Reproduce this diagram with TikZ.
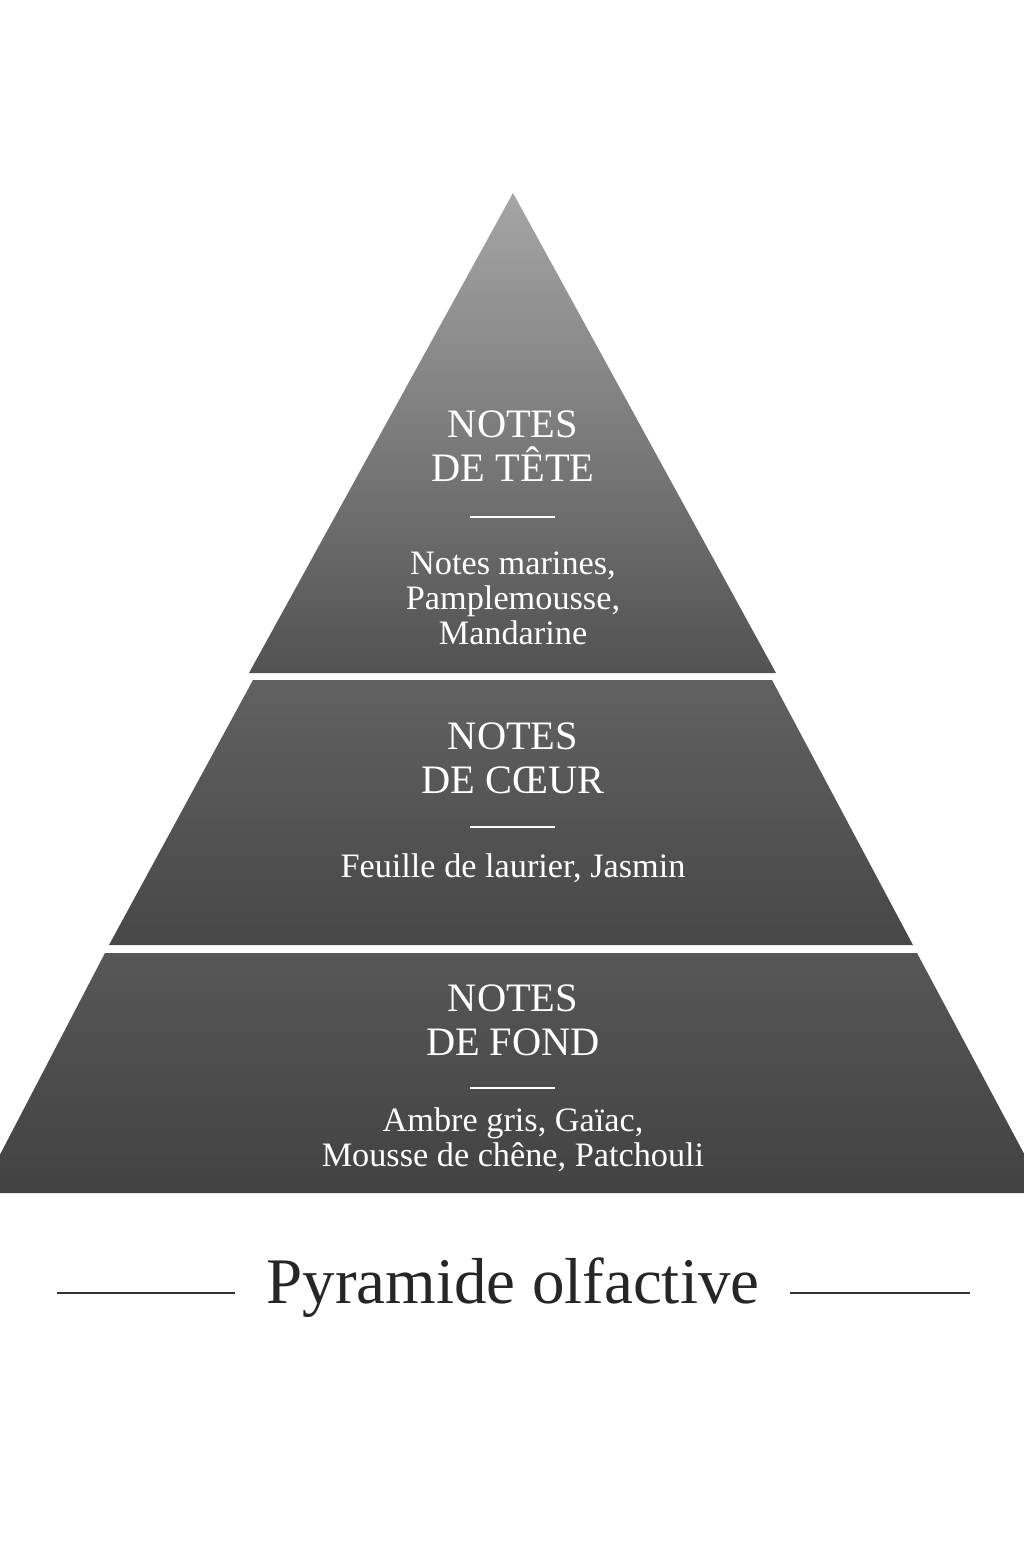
\documentclass[tikz,border=0pt]{standalone}
\usepackage{fontspec}
\setmainfont{Liberation Serif}
\begin{document}
\begin{tikzpicture}[x=0.02cm, y=-0.02cm]
    \tikzset{head/.style={text=white, font=\fontsize{23}{25}\selectfont, align=center}}
    \tikzset{notes/.style={text=white, font=\fontsize{19.5}{20}\selectfont, align=center}}
    \tikzset{rule/.style={draw=white, line width=1pt}}
    \useasboundingbox (0, 0) rectangle (1024, 1556);

    % Bands
    \shade [top color=black!35, bottom color=black!68]
          (513, 193) -- (776, 673) -- (249, 673) -- cycle;
    \shade [top color=black!62, bottom color=black!72]
          (253, 680) -- (772, 680) -- (913, 945) -- (109, 945) -- cycle;
    \shade [top color=black!66, bottom color=black!74]
          (105, 953) -- (917, 953) -- (1045, 1193) -- (-20, 1193) -- cycle;

    % Top
    \path (513, 446) node [head] (tete) {NOTES\\DE TÊTE};
    \draw [rule] (470, 517) -- (555, 517);
    \path (513, 598) node [notes] (tetenotes)
          {Notes marines,\\Pamplemousse,\\Mandarine};

    % Middle
    \path (513, 758) node [head] (coeur) {NOTES\\DE CŒUR};
    \draw [rule] (470, 827) -- (555, 827);
    \path (513, 868) node [notes] (coeurnotes) {Feuille de laurier, Jasmin};

    % Bottom
    \path (513, 1020) node [head] (fond) {NOTES\\DE FOND};
    \draw [rule] (470, 1088) -- (555, 1088);
    \path (513, 1140) node [notes] (fondnotes)
          {Ambre gris, Gaïac,\\Mousse de chêne, Patchouli};

    % Title
    \path (513, 1288) node [text=black!85, font=\fontsize{37}{40}\selectfont]
          (title) {Pyramide olfactive};
    \draw [black!80, line width=0.8pt] (57, 1293) -- (235, 1293);
    \draw [black!80, line width=0.8pt] (790, 1293) -- (970, 1293);
\end{tikzpicture}
\end{document}
